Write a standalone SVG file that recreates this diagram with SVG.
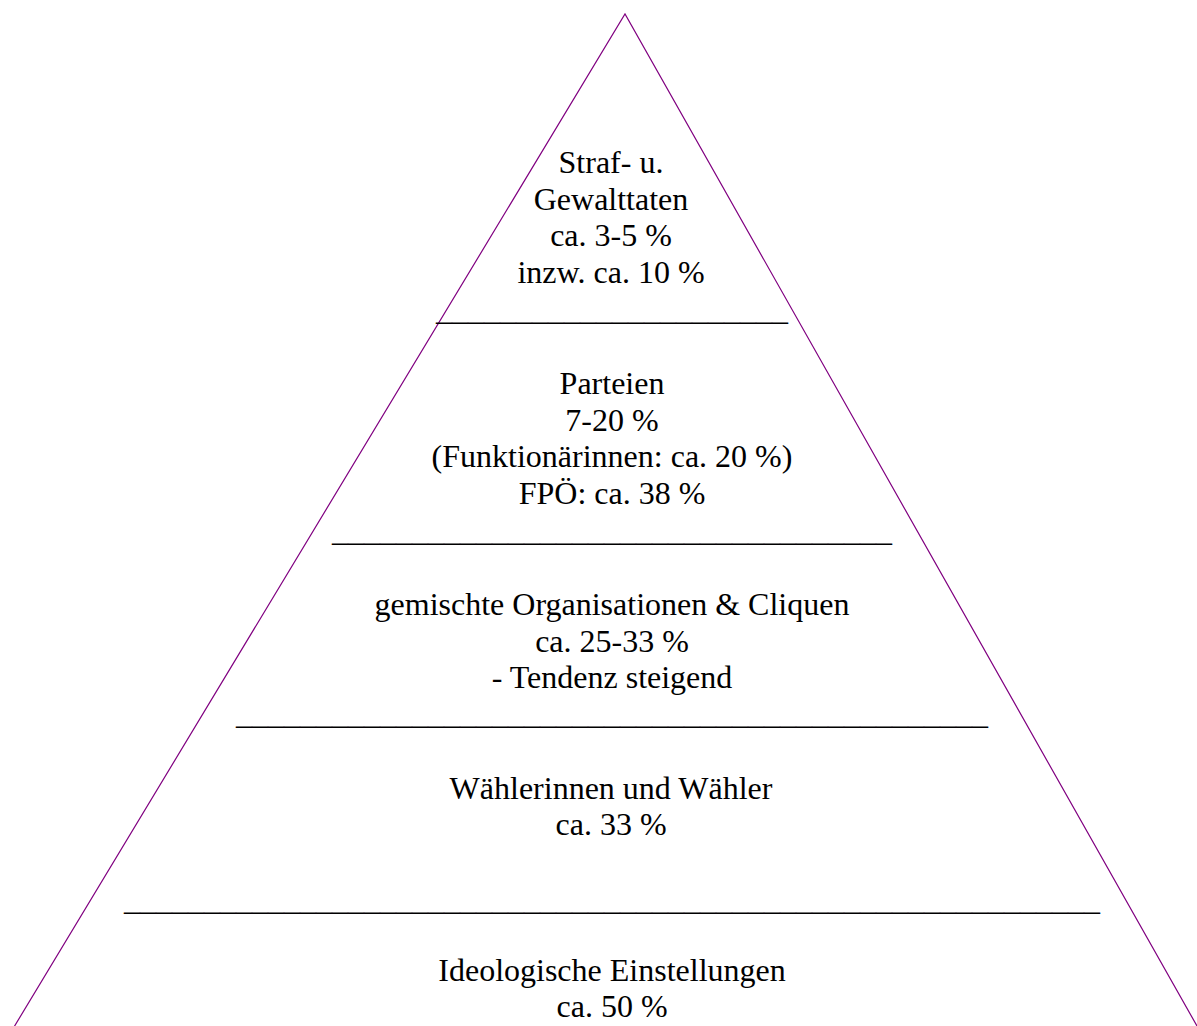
<svg xmlns="http://www.w3.org/2000/svg" width="1197" height="1026" viewBox="0 0 1197 1026">
<style>
text{font-family:"Liberation Serif","Times New Roman",serif;font-size:32px;fill:#000;text-anchor:middle}
.edge{fill:none;stroke:#800080;stroke-width:1.2}
</style>
<rect width="1197" height="1026" fill="#fff"/>
<g id="connectors">
<polyline class="edge" points="14,1027 625,14 1197,1026"/>
</g>
<g id="level1">
<text x="611" y="173">Straf- u.</text>
<text x="611" y="210">Gewalttaten</text>
<text x="611" y="246">ca. 3-5 %</text>
<text x="611" y="283">inzw. ca. 10 %</text>
<text x="612" y="320">______________________</text>
</g>
<g id="level2">
<text x="612" y="394">Parteien</text>
<text x="612" y="431">7-20 %</text>
<text x="612" y="467">(Funktionärinnen: ca. 20 %)</text>
<text x="612" y="504">FPÖ: ca. 38 %</text>
<text x="612" y="541">___________________________________</text>
</g>
<g id="level3">
<text x="612" y="615">gemischte Organisationen &amp; Cliquen</text>
<text x="612" y="652">ca. 25-33 %</text>
<text x="612" y="688">- Tendenz steigend</text>
<text x="612" y="724">_______________________________________________</text>
</g>
<g id="level4">
<text x="611" y="799">Wählerinnen und Wähler</text>
<text x="611" y="835">ca. 33 %</text>
<text x="612" y="910">_____________________________________________________________</text>
</g>
<g id="level5">
<text x="612" y="981">Ideologische Einstellungen</text>
<text x="612" y="1017">ca. 50 %</text>
</g>
</svg>
